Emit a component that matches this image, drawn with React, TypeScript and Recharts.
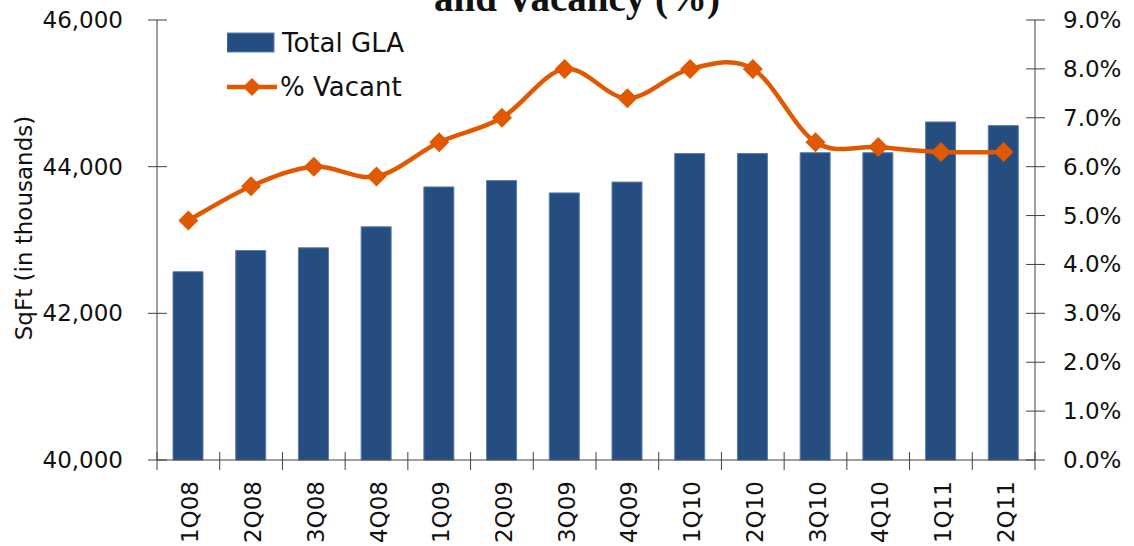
import React from "react";
import {
  ComposedChart, Bar, Line, XAxis, YAxis, Legend,
} from "recharts";

const quarters = ["1Q08", "2Q08", "3Q08", "4Q08", "1Q09", "2Q09", "3Q09", "4Q09", "1Q10", "2Q10", "3Q10", "4Q10", "1Q11", "2Q11"];
const totalGla = [42567, 42857, 42894, 43180, 43724, 43810, 43642, 43790, 44180, 44180, 44190, 44190, 44610, 44560];
const pctVacant = [4.9, 5.6, 6.0, 5.8, 6.5, 7.0, 8.0, 7.4, 8.0, 8.0, 6.5, 6.4, 6.3, 6.3];
const glaTicks = [40000, 42000, 44000, 46000];
const pctTicks = [0, 1, 2, 3, 4, 5, 6, 7, 8, 9];

const data = quarters.map((q, i) => ({ quarter: q, gla: totalGla[i], vacant: pctVacant[i] }));

const W = 1134;
const H = 546;
const LEFT_W = 157;
const RIGHT_W = 99;
const X_H = 86;
const STEP = (W - LEFT_W - RIGHT_W) / quarters.length;

const BLUE = "#264D80";
const ORANGE = "#E05800";
const AXIS = "#404040";
const FONT = "'DejaVu Sans', sans-serif";

// excel-ish smoothing (catmull-rom through the points)
function excelSmooth(context: any) {
  let pts: number[][] = [];
  return {
    areaStart() {},
    areaEnd() {},
    lineStart() { pts = []; },
    lineEnd() {
      if (!pts.length) return;
      context.moveTo(pts[0][0], pts[0][1]);
      for (let i = 0; i < pts.length - 1; i++) {
        const p0 = pts[i - 1] ?? pts[i];
        const p1 = pts[i];
        const p2 = pts[i + 1];
        const p3 = pts[i + 2] ?? p2;
        context.bezierCurveTo(
          p1[0] + (p2[0] - p0[0]) / 6, p1[1] + (p2[1] - p0[1]) / 6,
          p2[0] - (p3[0] - p1[0]) / 6, p2[1] - (p3[1] - p1[1]) / 6,
          p2[0], p2[1],
        );
      }
    },
    point(x: number, y: number) { pts.push([+x, +y]); },
  };
}

function diamond(cx: number, cy: number, r: number) {
  return `M${cx},${cy - r}L${cx + r},${cy}L${cx},${cy + r}L${cx - r},${cy}Z`;
}

function LeftTick({ x, y, payload }: any) {
  return (
    <g>
      <line x1={x - 9} x2={x + 10} y1={y} y2={y} stroke={AXIS} />
      <text x={x - 34} y={y + 8} textAnchor="end" fontSize={23} fontFamily={FONT} fill="#111">
        {Number(payload.value).toLocaleString("en-US")}
      </text>
    </g>
  );
}

function RightTick({ x, y, payload }: any) {
  return (
    <g>
      <line x1={x - 9} x2={x + 10} y1={y} y2={y} stroke={AXIS} />
      <text x={x + 28} y={y + 8} textAnchor="start" fontSize={23} fontFamily={FONT} fill="#111">
        {`${Number(payload.value).toFixed(1)}%`}
      </text>
    </g>
  );
}

function BottomTick({ x, y, payload, index }: any) {
  const tx = x + 10;
  const ty = y + 21;
  return (
    <g>
      <line x1={x - STEP / 2} x2={x - STEP / 2} y1={y - 8} y2={y + 10} stroke={AXIS} />
      {index === quarters.length - 1 && (
        <line x1={x + STEP / 2} x2={x + STEP / 2} y1={y - 8} y2={y + 10} stroke={AXIS} />
      )}
      <text x={tx} y={ty} transform={`rotate(-90, ${tx}, ${ty})`} textAnchor="end"
        fontSize={23} fontFamily={FONT} fill="#111">
        {payload.value}
      </text>
    </g>
  );
}

function VacantDot({ cx, cy, index }: any) {
  return <path key={index} d={diamond(cx, cy, 10)} fill={ORANGE} />;
}

function ChartLegend() {
  return (
    <svg width={200} height={80} style={{ display: "block" }}>
      <rect x={0} y={5} width={47} height={19} fill={BLUE} stroke="#5a7db0" />
      <text x={55} y={24} fontSize={26} fontFamily={FONT} fill="#111">Total GLA</text>
      <line x1={0} x2={50} y1={59} y2={59} stroke={ORANGE} strokeWidth={4.5} />
      <path d={diamond(25, 59, 9)} fill={ORANGE} />
      <text x={53} y={68} fontSize={26} fontFamily={FONT} fill="#111">% Vacant</text>
    </svg>
  );
}

export default function App() {
  return (
    <div style={{ position: "absolute", left: 0, top: 0, width: W, height: H, background: "#fff" }}>
      <ComposedChart width={W} height={H} data={data} margin={{ top: 20, right: 0, bottom: 0, left: 0 }}
        barCategoryGap={0}>
        <XAxis
          dataKey="quarter"
          height={X_H}
          interval={0}
          tickSize={0}
          tickMargin={0}
          tickLine={false}
          axisLine={{ stroke: AXIS }}
          tick={<BottomTick />}
        />
        <YAxis
          yAxisId="gla"
          orientation="left"
          width={LEFT_W}
          domain={[40000, 46000]}
          ticks={glaTicks}
          tickSize={0}
          tickMargin={0}
          tickLine={false}
          axisLine={{ stroke: AXIS }}
          tick={<LeftTick />}
          label={() => (
            <text x={32} y={228} transform="rotate(-90, 32, 228)" textAnchor="middle"
              fontSize={23} fontFamily={FONT} fill="#111">
              SqFt (in thousands)
            </text>
          )}
        />
        <YAxis
          yAxisId="pct"
          orientation="right"
          width={RIGHT_W}
          domain={[0, 9]}
          ticks={pctTicks}
          tickSize={0}
          tickMargin={0}
          tickLine={false}
          axisLine={{ stroke: AXIS }}
          tick={<RightTick />}
        />
        <Legend
          layout="horizontal"
          verticalAlign="middle"
          align="center"
          content={() => <ChartLegend />}
          wrapperStyle={{ left: 227, top: 28, width: 200, height: 80 }}
        />
        <Bar yAxisId="gla" dataKey="gla" name="Total GLA" barSize={30} fill={BLUE}
          stroke="#5a7db0" strokeWidth={1} isAnimationActive={false} />
        <Line yAxisId="pct" dataKey="vacant" name="% Vacant" type={excelSmooth as any}
          stroke={ORANGE} strokeWidth={4.5} dot={<VacantDot />} activeDot={false}
          isAnimationActive={false} />
      </ComposedChart>
      <svg width={W} height={40} style={{ position: "absolute", left: 0, top: 0, pointerEvents: "none" }}>
        <text x={577} y={11} textAnchor="middle" fontSize={39} fontWeight="bold"
          fontFamily="'Liberation Serif', 'Times New Roman', serif" fill="#111">
          and Vacancy (%)
        </text>
      </svg>
    </div>
  );
}
